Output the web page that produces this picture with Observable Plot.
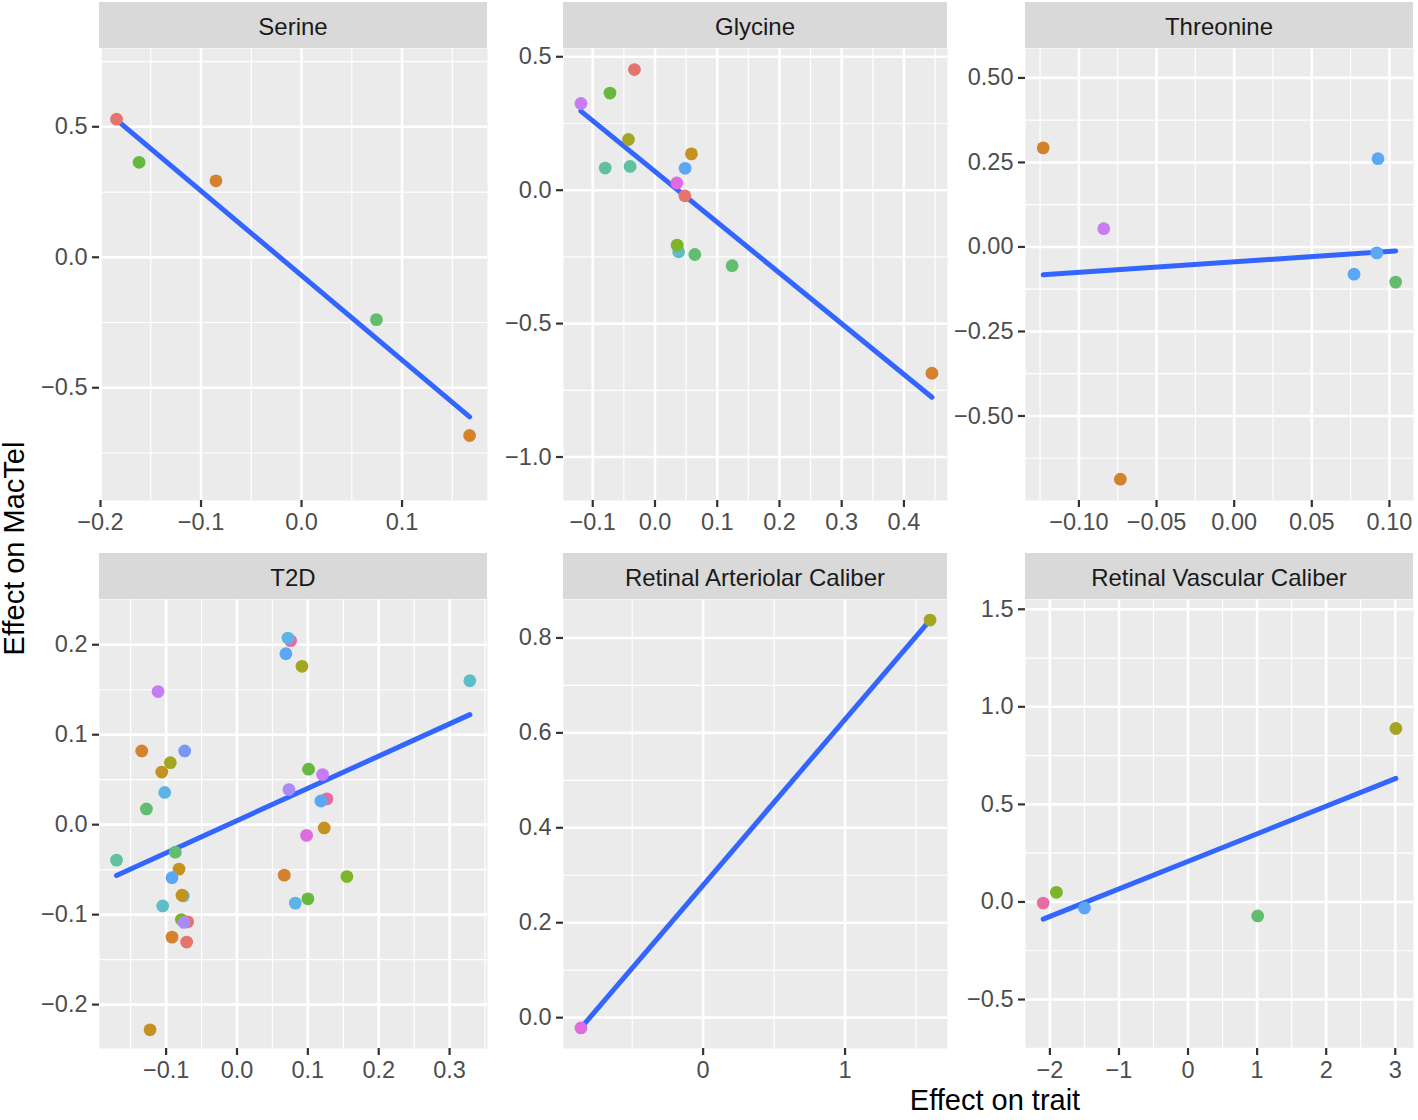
<!DOCTYPE html>
<html><head><meta charset="utf-8">
<script src="https://cdn.jsdelivr.net/npm/d3@7"></script>
<script src="https://cdn.jsdelivr.net/npm/@observablehq/plot@0.6"></script>
<style>
body{margin:0;background:#fff;font-family:"Liberation Sans",Arial,Helvetica,sans-serif;}
#root{position:relative;width:1418px;height:1120px;overflow:hidden;background:#fff;}
.strip{position:absolute;background:#D9D9D9;color:#1A1A1A;font-size:24px;display:flex;align-items:center;justify-content:center;box-sizing:border-box;padding-top:3px;}
.atitle{position:absolute;color:#000;font-size:29px;white-space:nowrap;line-height:1;}
</style></head><body><div id="root"></div>
<script>
// ---------- data ----------
const panelTitles = ["Serine", "Glycine", "Threonine", "T2D", "Retinal Arteriolar Caliber", "Retinal Vascular Caliber"];
const xTitle = "Effect on trait";
const yTitle = "Effect on MacTel";

// point groups (SNP colour keys) and their hue palette
const groupKeys = ["g-red","g-orange","g-golden","g-olive","g-lime","g-green","g-green2","g-teal","g-cyan","g-sky","g-blue","g-periwinkle","g-lavender","g-purple","g-magenta","g-pink"];
const groupPalette = ["#E4746C","#D5822F","#C6921F","#A4A521","#7CB42A","#66B83F","#62BD6F","#5FC1A0","#5DBDC8","#5BB4E5","#5AA7F6","#7A97F8","#A88AF8","#C77CF5","#E06BE0","#E76CA3"];

// [effect on trait, effect on MacTel, group]
const serinePts = [
  [-0.184, 0.529, "g-red"], [-0.1616, 0.364, "g-green"], [-0.0851, 0.293, "g-orange"],
  [0.0745, -0.239, "g-green2"], [0.1672, -0.683, "g-orange"]
];
const glycinePts = [
  [-0.119, 0.325, "g-purple"], [-0.0723, 0.364, "g-green"], [-0.033, 0.452, "g-red"],
  [-0.0426, 0.190, "g-olive"], [-0.080, 0.083, "g-teal"], [-0.040, 0.089, "g-teal"],
  [0.0585, 0.136, "g-golden"], [0.0484, 0.082, "g-blue"], [0.035, 0.027, "g-magenta"],
  [0.048, -0.021, "g-red"], [0.038, -0.231, "g-cyan"], [0.0356, -0.206, "g-lime"],
  [0.064, -0.241, "g-green2"], [0.124, -0.283, "g-green2"], [0.445, -0.686, "g-orange"]
];
const threoninePts = [
  [-0.123, 0.293, "g-orange"], [-0.084, 0.054, "g-purple"], [-0.0733, -0.687, "g-orange"],
  [0.0926, 0.261, "g-blue"], [0.0919, -0.0176, "g-blue"], [0.0772, -0.0806, "g-blue"],
  [0.104, -0.104, "g-green2"]
];
const t2dPts = [
  [-0.170, -0.0394, "g-teal"], [0.3286, 0.160, "g-cyan"], [0.0757, 0.2046, "g-pink"],
  [0.0719, 0.2074, "g-sky"], [0.069, 0.190, "g-blue"], [0.0917, 0.176, "g-olive"],
  [-0.1114, 0.148, "g-purple"], [-0.1344, 0.082, "g-orange"], [-0.0738, 0.082, "g-periwinkle"],
  [-0.094, 0.0689, "g-olive"], [-0.1062, 0.0585, "g-golden"], [-0.102, 0.0358, "g-sky"],
  [-0.1278, 0.0175, "g-green2"], [-0.087, -0.0306, "g-green2"], [-0.0818, -0.0494, "g-golden"],
  [-0.0917, -0.0589, "g-blue"], [-0.0757, -0.0792, "g-cyan"], [-0.0776, -0.0784, "g-golden"],
  [-0.1048, -0.0903, "g-cyan"], [-0.0785, -0.1055, "g-lime"], [-0.0696, -0.108, "g-red"],
  [-0.0747, -0.1087, "g-lavender"], [-0.0917, -0.125, "g-orange"], [-0.071, -0.1305, "g-red"],
  [-0.1227, -0.228, "g-golden"], [0.101, 0.0617, "g-green"], [0.1208, 0.0557, "g-purple"],
  [0.0733, 0.039, "g-lavender"], [0.1269, 0.0287, "g-pink"], [0.1184, 0.0263, "g-blue"],
  [0.1231, -0.0036, "g-golden"], [0.0982, -0.0119, "g-magenta"], [0.0667, -0.0561, "g-orange"],
  [0.1551, -0.0577, "g-lime"], [0.1001, -0.0824, "g-green"], [0.0823, -0.0872, "g-sky"]
];
const arteriolarPts = [[-0.861, -0.0217, "g-magenta"], [1.599, 0.8376, "g-olive"]];
const vascularPts = [
  [-2.097, -0.0055, "g-pink"], [-1.905, 0.0495, "g-lime"], [-1.5, -0.031, "g-blue"],
  [1.008, -0.0715, "g-green2"], [3.009, 0.889, "g-olive"]
];

// axis domains (free scales per panel)
const serineXDomain = [-0.201, 0.185],  serineYDomain = [-0.932, 0.80];
const glycineXDomain = [-0.147, 0.470], glycineYDomain = [-1.163, 0.531];
const threonineXDomain = [-0.1344, 0.1155], threonineYDomain = [-0.75, 0.587];
const t2dXDomain = [-0.194, 0.3535], t2dYDomain = [-0.2488, 0.2503];
const arteriolarXDomain = [-0.984, 1.722], arteriolarYDomain = [-0.065, 0.881];
const vascularXDomain = [-2.353, 3.264], vascularYDomain = [-0.751, 1.55];

// tick values (major labelled, minor grid only)
const serineXTicks = [-0.2, -0.1, 0, 0.1], serineXMinor = [-0.15, -0.05, 0.05, 0.15];
const serineYTicks = [-0.5, 0, 0.5], serineYMinor = [-0.75, -0.25, 0.25, 0.75];
const glycineXTicks = [-0.1, 0, 0.1, 0.2, 0.3, 0.4], glycineXMinor = [-0.05, 0.05, 0.15, 0.25, 0.35, 0.45];
const glycineYTicks = [-1, -0.5, 0, 0.5], glycineYMinor = [-0.75, -0.25, 0.25];
const threonineXTicks = [-0.1, -0.05, 0, 0.05, 0.1], threonineXMinor = [-0.125, -0.075, -0.025, 0.025, 0.075];
const threonineYTicks = [-0.5, -0.25, 0, 0.25, 0.5], threonineYMinor = [-0.625, -0.375, -0.125, 0.125, 0.375];
const t2dXTicks = [-0.1, 0, 0.1, 0.2, 0.3], t2dXMinor = [-0.15, -0.05, 0.05, 0.15, 0.25, 0.35];
const t2dYTicks = [-0.2, -0.1, 0, 0.1, 0.2], t2dYMinor = [-0.15, -0.05, 0.05, 0.15];
const arteriolarXTicks = [0, 1], arteriolarXMinor = [-0.5, 0.5, 1.5];
const arteriolarYTicks = [0, 0.2, 0.4, 0.6, 0.8], arteriolarYMinor = [0.1, 0.3, 0.5, 0.7];
const vascularXTicks = [-2, -1, 0, 1, 2, 3], vascularXMinor = [-1.5, -0.5, 0.5, 1.5, 2.5];
const vascularYTicks = [-0.5, 0, 0.5, 1, 1.5], vascularYMinor = [-0.75, -0.25, 0.25, 0.75, 1.25];

// ---------- layout ----------
const root = document.getElementById("root");
const colLeft = [99, 563, 1025], colWidth = [388, 384, 388];
const stripTop = [2, 553], panelTop = [48, 599], panelH = [452, 449];
const ML = 95, MR = 12, MT = 12, MB = 50;

const panels = [
  {pts: serinePts, xd: serineXDomain, yd: serineYDomain, xt: serineXTicks, xm: serineXMinor, yt: serineYTicks, ym: serineYMinor, xf: ".1f", yf: ".1f"},
  {pts: glycinePts, xd: glycineXDomain, yd: glycineYDomain, xt: glycineXTicks, xm: glycineXMinor, yt: glycineYTicks, ym: glycineYMinor, xf: ".1f", yf: ".1f"},
  {pts: threoninePts, xd: threonineXDomain, yd: threonineYDomain, xt: threonineXTicks, xm: threonineXMinor, yt: threonineYTicks, ym: threonineYMinor, xf: ".2f", yf: ".2f"},
  {pts: t2dPts, xd: t2dXDomain, yd: t2dYDomain, xt: t2dXTicks, xm: t2dXMinor, yt: t2dYTicks, ym: t2dYMinor, xf: ".1f", yf: ".1f"},
  {pts: arteriolarPts, xd: arteriolarXDomain, yd: arteriolarYDomain, xt: arteriolarXTicks, xm: arteriolarXMinor, yt: arteriolarYTicks, ym: arteriolarYMinor, xf: "d", yf: ".1f"},
  {pts: vascularPts, xd: vascularXDomain, yd: vascularYDomain, xt: vascularXTicks, xm: vascularXMinor, yt: vascularYTicks, ym: vascularYMinor, xf: "d", yf: ".1f"}
];

panels.forEach((p, i) => {
  const r = Math.floor(i / 3), c = i % 3;
  const w = colWidth[c], h = panelH[r];
  const data = p.pts.map(([x, y, g]) => ({x, y, g}));

  const strip = document.createElement("div");
  strip.className = "strip";
  strip.style.left = colLeft[c] + "px";
  strip.style.top = stripTop[r] + "px";
  strip.style.width = w + "px";
  strip.style.height = (panelTop[r] - stripTop[r]) + "px";
  strip.textContent = panelTitles[i];
  root.appendChild(strip);

  const svg = Plot.plot({
    width: w + ML + MR,
    height: h + MT + MB,
    marginLeft: ML, marginRight: MR, marginTop: MT, marginBottom: MB,
    style: {background: "none", overflow: "visible", fontSize: "23.5px", fontFamily: '"Liberation Sans", Arial, Helvetica, sans-serif', color: "#4D4D4D"},
    x: {domain: p.xd, label: null},
    y: {domain: p.yd, label: null},
    color: {type: "ordinal", domain: groupKeys, range: groupPalette},
    marks: [
      Plot.frame({fill: "#EBEBEB", stroke: "none"}),
      Plot.gridX(p.xm, {stroke: "#FFFFFF", strokeOpacity: 1, strokeWidth: 1.2}),
      Plot.gridY(p.ym, {stroke: "#FFFFFF", strokeOpacity: 1, strokeWidth: 1.2}),
      Plot.gridX(p.xt, {stroke: "#FFFFFF", strokeOpacity: 1, strokeWidth: 2.6}),
      Plot.gridY(p.yt, {stroke: "#FFFFFF", strokeOpacity: 1, strokeWidth: 2.6}),
      Plot.axisX({ticks: p.xt, tickFormat: d3.format(p.xf), tickSize: 7, tickPadding: 6, stroke: "#333333", strokeWidth: 2.2, fill: "#4D4D4D", label: null}),
      Plot.axisY({ticks: p.yt, tickFormat: d3.format(p.yf), tickSize: 7, tickPadding: 5, stroke: "#333333", strokeWidth: 2.2, fill: "#4D4D4D", label: null}),
      Plot.linearRegressionY(data, {x: "x", y: "y", stroke: "#3366FF", strokeWidth: 5, ci: 0}),
      Plot.dot(data, {x: "x", y: "y", fill: "g", r: 6.4, stroke: "none"})
    ]
  });
  svg.style.position = "absolute";
  svg.style.left = (colLeft[c] - ML) + "px";
  svg.style.top = (panelTop[r] - MT) + "px";
  svg.style.maxWidth = "none";
  root.appendChild(svg);
});

const yt = document.createElement("div");
yt.className = "atitle";
yt.textContent = yTitle;
root.appendChild(yt);
const yw = yt.getBoundingClientRect().width;
yt.style.left = (15 - yw / 2) + "px";
yt.style.top = (548 - 14.5) + "px";
yt.style.transform = "rotate(-90deg)";
yt.style.transformOrigin = "50% 50%";

const xt = document.createElement("div");
xt.className = "atitle";
xt.textContent = xTitle;
root.appendChild(xt);
const xw = xt.getBoundingClientRect().width;
xt.style.left = (995 - xw / 2) + "px";
xt.style.top = (1086) + "px";
</script></body></html>
